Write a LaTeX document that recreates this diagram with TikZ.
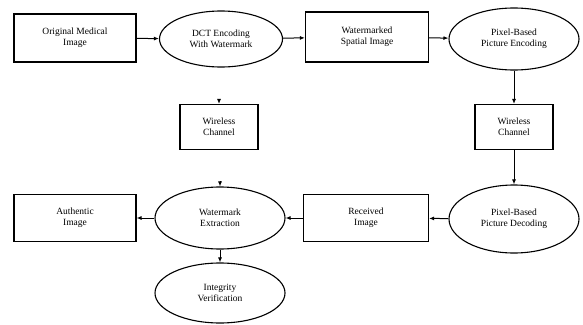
\documentclass[tikz,border=0pt]{standalone}
\usepackage{fontspec}
\setmainfont{Liberation Serif}
\usetikzlibrary{shapes.geometric,arrows.meta}
\begin{document}
\begin{tikzpicture}[x=1pt,y=-1pt,
  box/.style={draw,line width=1.1pt,rectangle,minimum width=122pt,minimum height=48pt,align=center,font=\fontsize{9.5}{11}\selectfont,inner sep=1pt},
  sbox/.style={draw,line width=1.1pt,rectangle,minimum width=78pt,minimum height=45pt,align=center,font=\fontsize{9.5}{11}\selectfont,inner sep=1pt},
  ell/.style={draw,line width=1.1pt,ellipse,minimum width=128pt,minimum height=60pt,inner sep=0pt,align=center,font=\fontsize{9.5}{11}\selectfont},
  arr/.style={-{Latex[length=5pt,width=4pt]},line width=1pt}]
\useasboundingbox (0,0) rectangle (583,324);
\node[box] (orig) at (75,38) {Original Medical\\Image};
\node[ell,minimum width=123pt,minimum height=56pt] (dct) at (221,39) {DCT Encoding\\With Watermark};
\node[box,minimum width=123pt,minimum height=50pt] (wsi) at (367,37) {Watermarked\\Spatial Image};
\node[ell,minimum width=130pt,minimum height=62pt] (pbe) at (514,39) {Pixel-Based\\Picture Encoding};
\node[sbox] (wc2) at (514,127) {Wireless\\Channel};
\node[sbox] (wc1) at (219,127) {Wireless\\Channel};
\node[ell,minimum width=130pt,minimum height=68pt] (pbd) at (514,219) {Pixel-Based\\Picture Decoding};
\node[box,minimum width=125pt,minimum height=47pt] (rec) at (366,218) {Received\\Image};
\node[ell,minimum width=130pt,minimum height=62pt] (we) at (220,218) {Watermark\\Extraction};
\node[box,minimum width=122pt,minimum height=47pt] (auth) at (75,218) {Authentic\\Image};
\node[ell,minimum width=130pt,minimum height=60pt] (iv) at (220,293) {Integrity\\Verification};
\coordinate (s1) at (219,99);
\coordinate (s2) at (220,181);
\draw[arr] (orig) -- (dct);
\draw[arr] (dct) -- (wsi);
\draw[arr] (wsi) -- (pbe);
\draw[arr] (pbe) -- (wc2);
\draw[arr] (wc2) -- (pbd);
\draw[arr] (pbd) -- (rec);
\draw[arr] (rec) -- (we);
\draw[arr] (we) -- (auth);
\draw[arr] (we) -- (iv);
\draw[arr] (s1) -- (wc1.north);
\draw[arr] (s2) -- (we.north);
\end{tikzpicture}
\end{document}
